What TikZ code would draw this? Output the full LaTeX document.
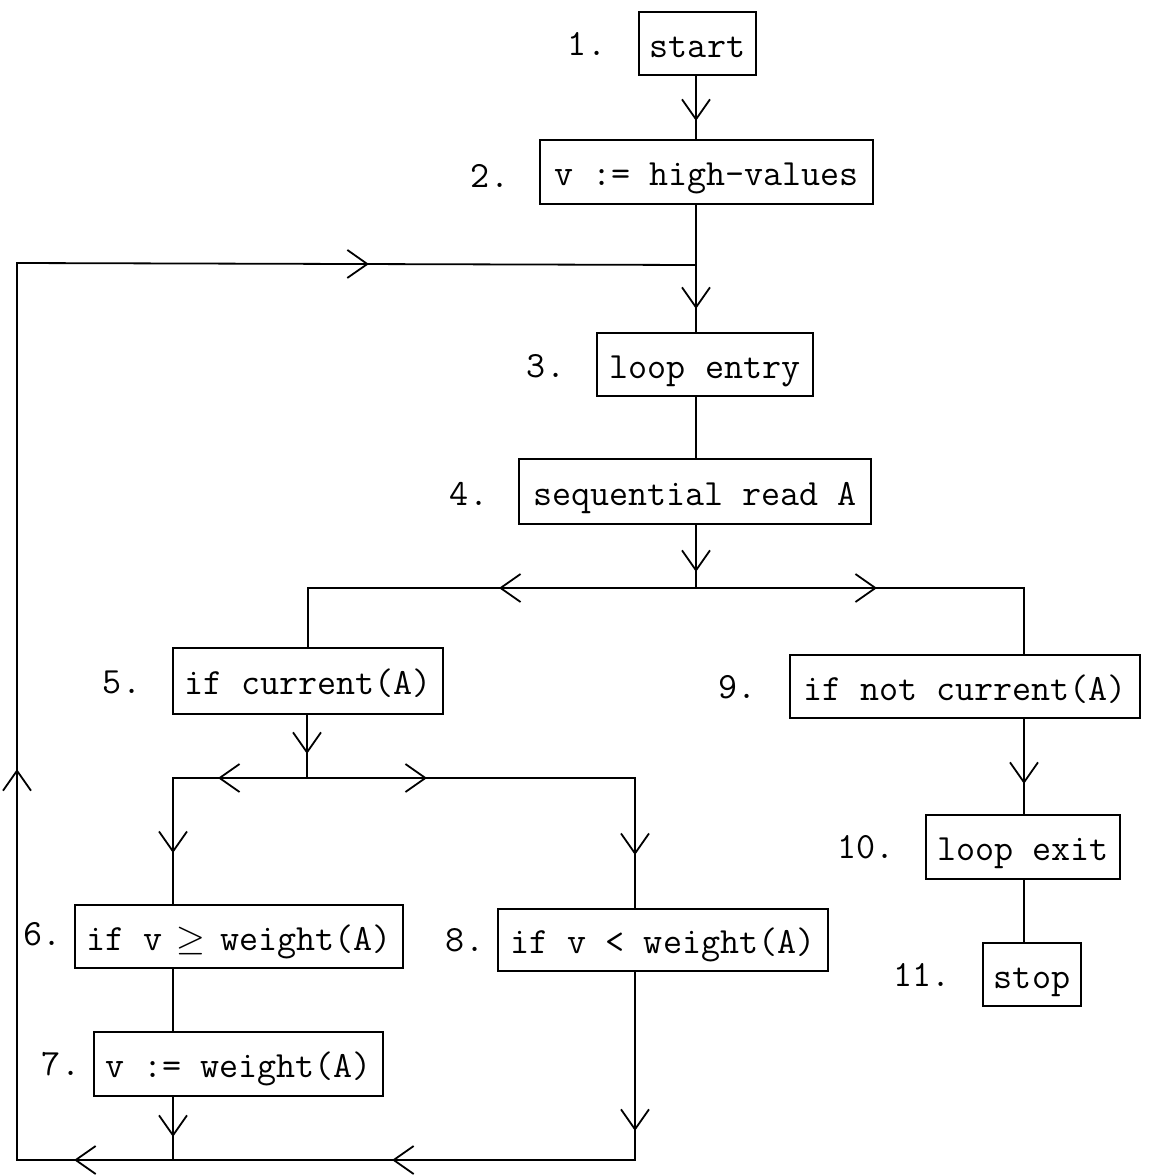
\documentclass[tikz,border=0pt]{standalone}
\usepackage{fontspec}
\newfontfamily\relfont{Latin Modern Math}
\newcommand{\geqsym}{\makebox[0.525em]{\relfont ≥}}
\usetikzlibrary{arrows.meta,decorations.markings}
\begin{document}
\begin{tikzpicture}[x=1pt,y=-1pt,
  txt/.style={font=\ttfamily\fontsize{37}{44}\selectfont},
  box/.style={txt,draw,line width=1.8pt,inner sep=0pt,text height=30pt,text depth=3pt,align=center},
  num/.style={txt,inner sep=0pt,anchor=base},
  flow/.style={line width=1.8pt,line join=miter},
  barb/.tip={Straight Barb[length=20pt,width=28pt,line width=1.8pt]},
  tipat/.style={postaction={decorate,decoration={markings,mark=at position #1 with {\arrow{barb}}}}}
]
\useasboundingbox[fill=white] (0,0) rectangle (1150,1176);

% statement boxes
\node[box,minimum width=117pt,minimum height=63pt] (n1)  at (697.5,43.5) {start};
\node[box,minimum width=333pt,minimum height=64pt] (n2)  at (706.5,172)  {v := high-values};
\node[box,minimum width=216pt,minimum height=63pt] (n3)  at (705,364.5)  {loop entry};
\node[box,minimum width=352pt,minimum height=65pt] (n4)  at (695,491.5)  {sequential read A};
\node[box,minimum width=270pt,minimum height=66pt] (n5)  at (308,681)    {if current(A)};
\node[box,minimum width=350pt,minimum height=63pt] (n9)  at (965,686.5)  {if not current(A)};
\node[box,minimum width=194pt,minimum height=64pt] (n10) at (1023,847)   {loop exit};
\node[box,minimum width=98pt, minimum height=63pt] (n11) at (1032,974.5) {stop};
\node[box,minimum width=328pt,minimum height=63pt] (n6)  at (239,936.5)  {if v \geqsym{} weight(A)};
\node[box,minimum width=330pt,minimum height=62pt] (n8)  at (663,940)    {if v < weight(A)};
\node[box,minimum width=289pt,minimum height=64pt] (n7)  at (238.5,1064) {v := weight(A)};

% step numbers
\node[num] (l1)  at (587,55)   {1.};
\node[num] (l2)  at (490,187)  {2.};
\node[num] (l3)  at (546,377)  {3.};
\node[num] (l4)  at (469,505)  {4.};
\node[num] (l5)  at (122,693)  {5.};
\node[num] (l9)  at (738,698)  {9.};
\node[num] (l10) at (866,858)  {10.};
\node[num] (l11) at (922,986)  {11.};
\node[num] (l6)  at (43,945)   {6.};
\node[num] (l7)  at (61,1075)  {7.};
\node[num] (l8)  at (465,951)  {8.};

% junction points
\coordinate (jtop) at (696,265);
\coordinate (jmid) at (696,588);
\coordinate (jr)   at (1024,588);
\coordinate (jc)   at (307,778);
\coordinate (jl)   at (173,778);
\coordinate (jr2)  at (635,778);
\coordinate (jb7)  at (173,1160);
\coordinate (jb8)  at (635,1160);
\coordinate (jbl)  at (17,1160);
\coordinate (jtl)  at (17,263);

% main line
\draw[flow,tipat=45pt]  (n1.south -| jtop) -- (n2.north -| jtop);
\draw[flow,tipat=104pt] (n2.south -| jtop) -- (jtop) -- (n3.north -| jtop);
\draw[flow]             (n3.south -| jtop) -- (n4.north -| jtop);
\draw[flow,tipat=47pt]  (n4.south -| jtop) -- (jmid);

% first branching
\draw[flow,tipat=197pt] (jmid) -- (jmid -| n5.north) -- (n5.north);
\draw[flow,tipat=181pt] (jmid) -- (jr) -- (jr |- n9.north);
\draw[flow,tipat=65pt]  (n9.south -| jr) -- (n10.north -| jr);
\draw[flow]             (n10.south -| jr) -- (n11.north -| jr);

% second branching
\draw[flow,tipat=39pt]  (n5.south -| jc) -- (jc);
\draw[flow,tipat=89pt,tipat=209pt]  (jc) -- (jl) -- (jl |- n6.north);
\draw[flow,tipat=120pt,tipat=405pt] (jc) -- (jr2) -- (jr2 |- n8.north);
\draw[flow]             (n6.south -| jl) -- (n7.north -| jl);
\draw[flow,tipat=40pt]  (n7.south -| jl) -- (jb7);

% return path to the loop entry
\draw[flow,tipat=159pt,tipat=431pt,tipat=749pt,tipat=1197pt,tipat=2055pt]
  (n8.south -| jr2) -- (jb8) -- (jb7) -- (jbl) -- (jtl) -- (jtop);
\end{tikzpicture}
\end{document}
